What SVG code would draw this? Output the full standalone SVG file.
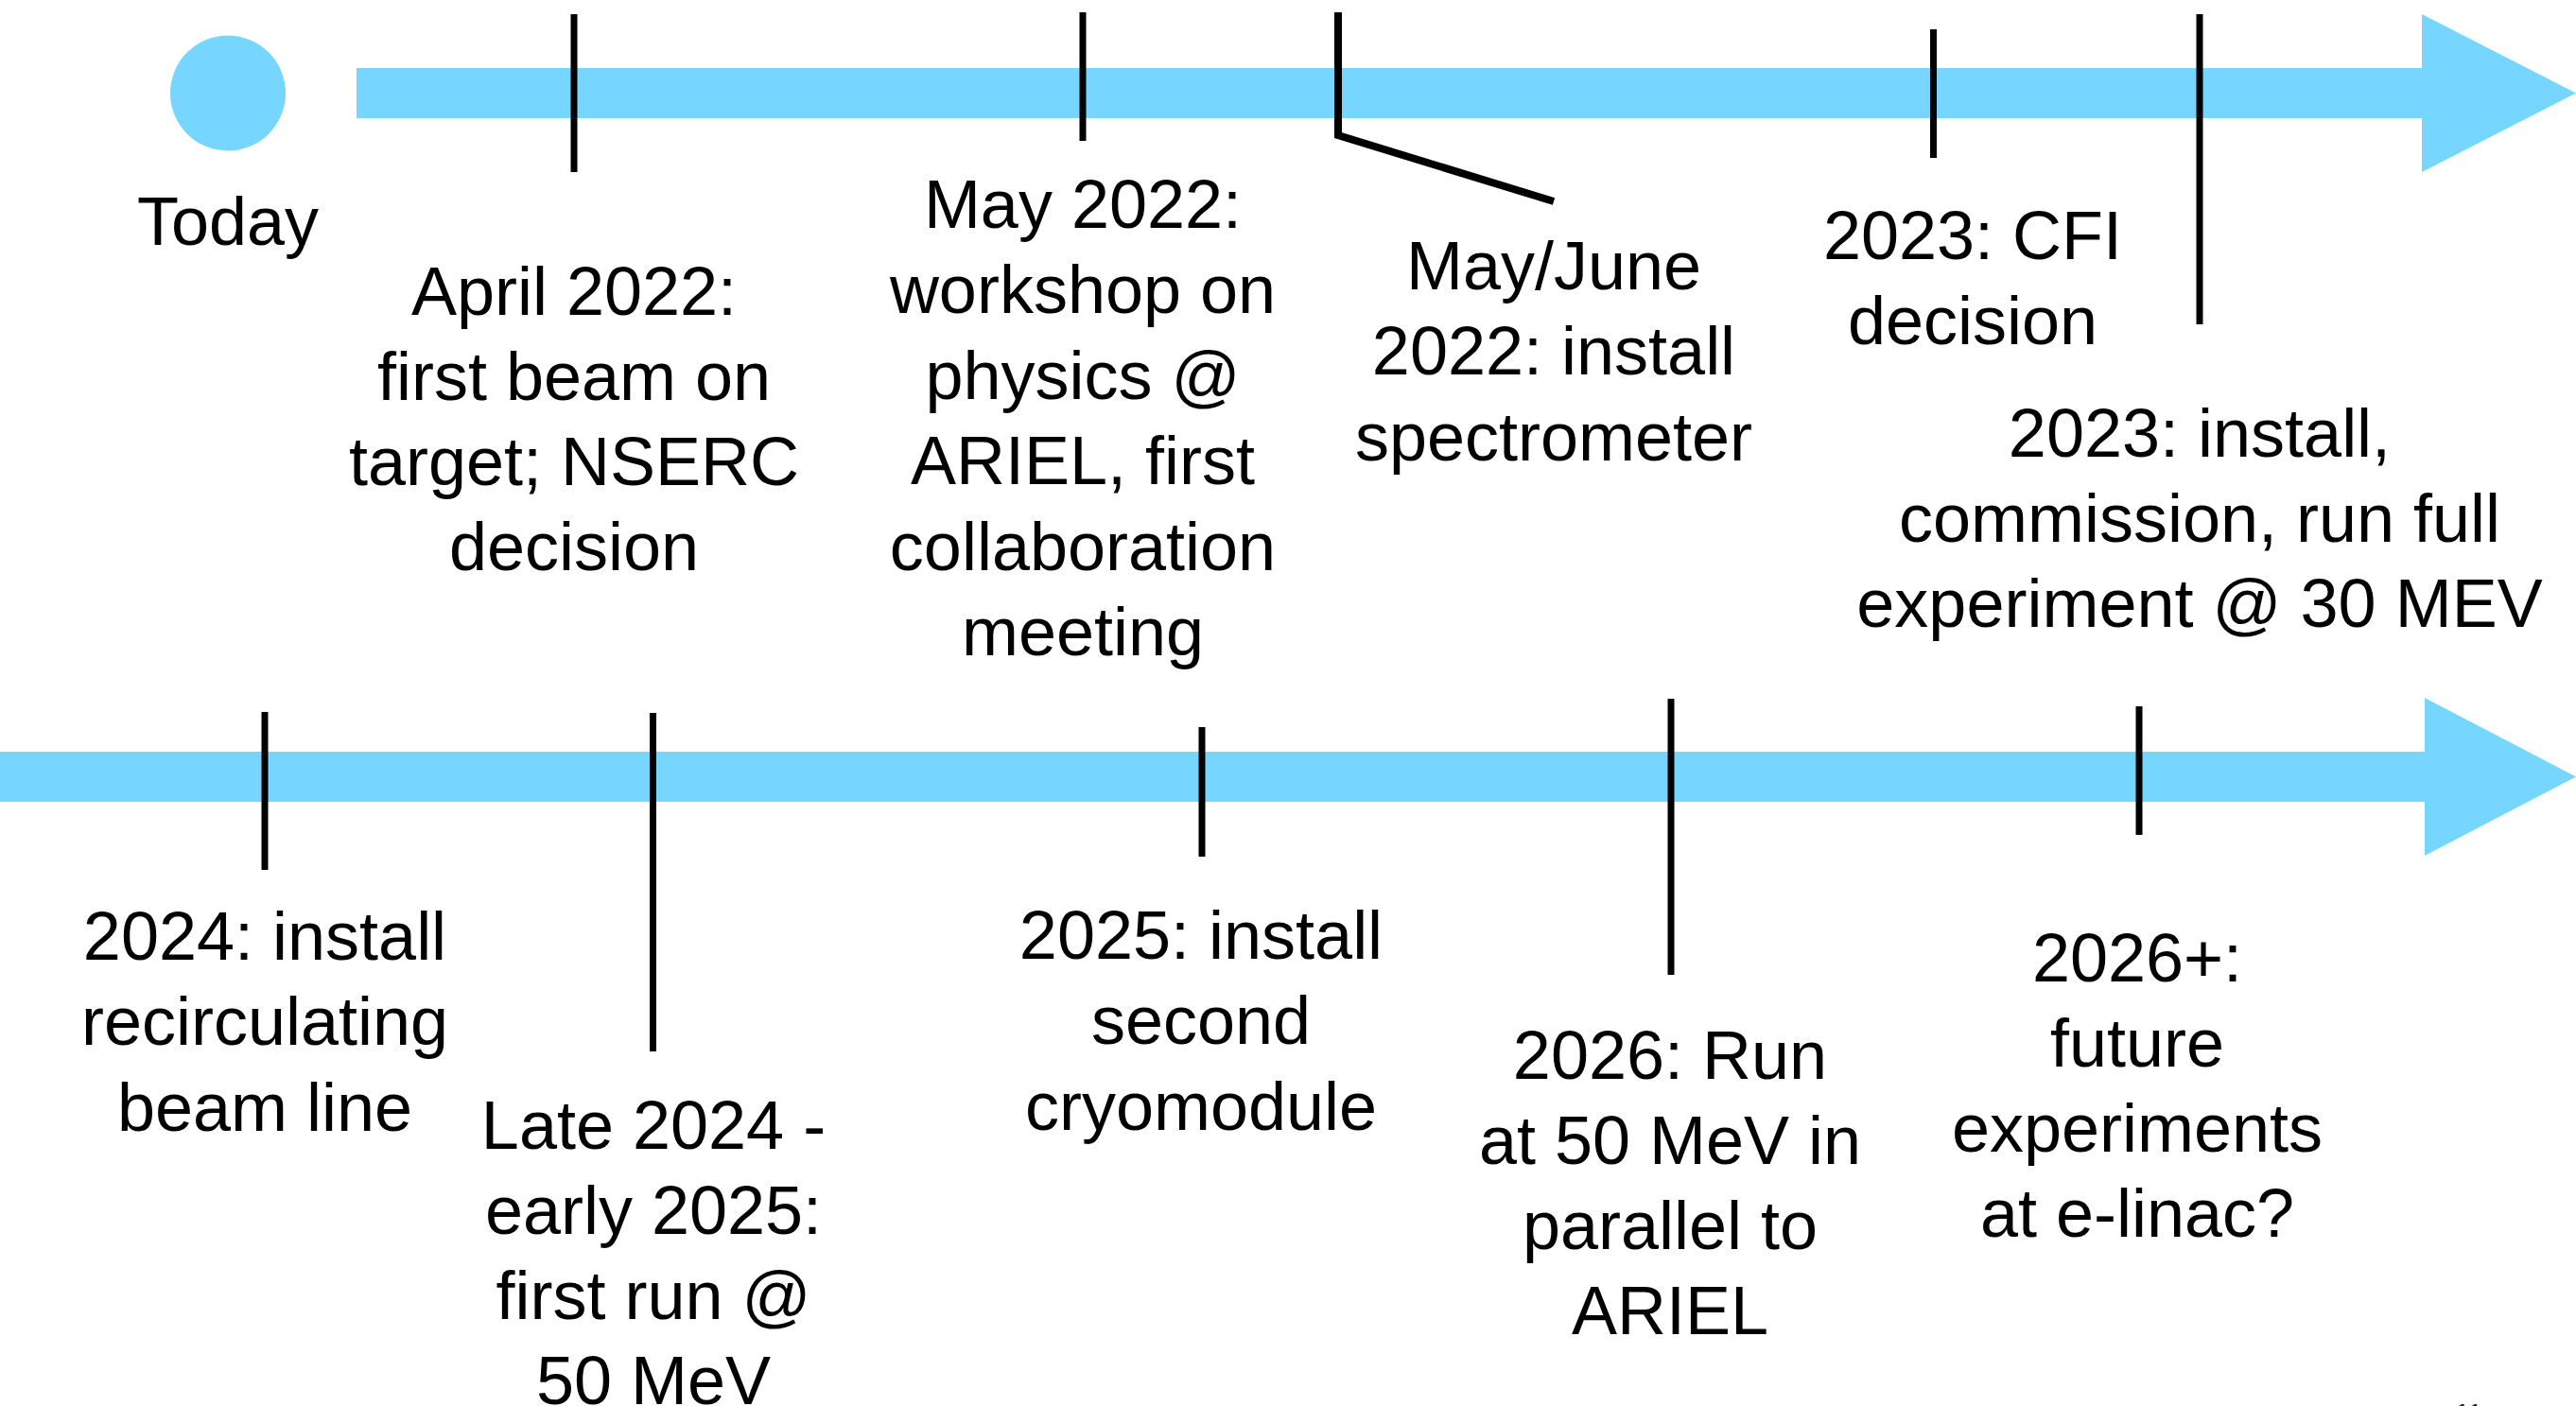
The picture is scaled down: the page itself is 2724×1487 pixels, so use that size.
<svg xmlns="http://www.w3.org/2000/svg" width="2724" height="1487" viewBox="0 0 2724 1487">
<style>
.bg{fill:#ffffff}
.arrow{fill:#76D6FF}
.tick{stroke:#000;stroke-width:7;fill:none}
.lead{stroke:#000;stroke-width:8;fill:none;stroke-linejoin:miter}
.lbl{font-family:"Liberation Sans",Arial,Helvetica,sans-serif;font-size:72px;fill:#000;text-anchor:middle}
.pg{font-family:"Liberation Sans",Arial,sans-serif;font-size:28px;fill:#222}
</style>
<rect class="bg" x="0" y="0" width="2724" height="1487"/>
<g id="connectors">
  <path id="arrow-top" class="arrow" d="M377 72 H2561 V15 L2724 98.5 L2561 182 V125 H377 Z"/>
  <path id="arrow-bottom" class="arrow" d="M0 795 H2564 V738 L2724 821.5 L2564 905 V848 H0 Z"/>
</g>
<g id="today">
  <circle class="arrow" cx="241" cy="98.5" r="61"/>
  <text class="lbl" x="241" y="259">Today</text>
</g>
<g id="april2022">
  <line class="tick" x1="607" y1="15" x2="607" y2="182"/>
  <text class="lbl" x="607" y="333"><tspan x="607" y="333">April 2022:</tspan><tspan x="607" y="423">first beam on</tspan><tspan x="607" y="513">target; NSERC</tspan><tspan x="607" y="603">decision</tspan></text>
</g>
<g id="may2022">
  <line class="tick" x1="1145" y1="13" x2="1145" y2="149"/>
  <text class="lbl" x="1145" y="241"><tspan x="1145" y="241">May 2022:</tspan><tspan x="1145" y="331">workshop on</tspan><tspan x="1145" y="422">physics @</tspan><tspan x="1145" y="512">ARIEL, first</tspan><tspan x="1145" y="603">collaboration</tspan><tspan x="1145" y="693">meeting</tspan></text>
</g>
<g id="mayjune2022">
  <path class="lead" d="M1415 13 V143 L1643 213"/>
  <text class="lbl" x="1643" y="306"><tspan x="1643" y="306">May/June</tspan><tspan x="1643" y="396">2022: install</tspan><tspan x="1643" y="487">spectrometer</tspan></text>
</g>
<g id="cfi2023">
  <line class="tick" x1="2044.5" y1="31" x2="2044.5" y2="167"/>
  <text class="lbl" x="2086" y="274"><tspan x="2086" y="274">2023: CFI</tspan><tspan x="2086" y="364">decision</tspan></text>
</g>
<g id="install2023">
  <line class="tick" x1="2326" y1="15" x2="2326" y2="343"/>
  <text class="lbl" x="2326" y="483"><tspan x="2326" y="483">2023: install,</tspan><tspan x="2326" y="573">commission, run full</tspan><tspan x="2326" y="663">experiment @ 30 MEV</tspan></text>
</g>
<g id="install2024">
  <line class="tick" x1="280" y1="753" x2="280" y2="920"/>
  <text class="lbl" x="280" y="1015"><tspan x="280" y="1015">2024: install</tspan><tspan x="280" y="1105">recirculating</tspan><tspan x="280" y="1196">beam line</tspan></text>
</g>
<g id="late2024">
  <line class="tick" x1="690.5" y1="754" x2="690.5" y2="1112"/>
  <text class="lbl" x="691" y="1215"><tspan x="691" y="1215">Late 2024 -</tspan><tspan x="691" y="1305">early 2025:</tspan><tspan x="691" y="1395">first run @</tspan><tspan x="691" y="1485">50 MeV</tspan></text>
</g>
<g id="install2025">
  <line class="tick" x1="1271" y1="769" x2="1271" y2="906"/>
  <text class="lbl" x="1270" y="1014"><tspan x="1270" y="1014">2025: install</tspan><tspan x="1270" y="1104">second</tspan><tspan x="1270" y="1195">cryomodule</tspan></text>
</g>
<g id="run2026">
  <line class="tick" x1="1767" y1="739" x2="1767" y2="1031"/>
  <text class="lbl" x="1766" y="1141"><tspan x="1766" y="1141">2026: Run</tspan><tspan x="1766" y="1231">at 50 MeV in</tspan><tspan x="1766" y="1321">parallel to</tspan><tspan x="1766" y="1411">ARIEL</tspan></text>
</g>
<g id="future2026">
  <line class="tick" x1="2262" y1="747" x2="2262" y2="883"/>
  <text class="lbl" x="2260" y="1038"><tspan x="2260" y="1038">2026+:</tspan><tspan x="2260" y="1128">future</tspan><tspan x="2260" y="1218">experiments</tspan><tspan x="2260" y="1308">at e-linac?</tspan></text>
</g>
<text class="pg" x="2596" y="1504">11</text>
</svg>
